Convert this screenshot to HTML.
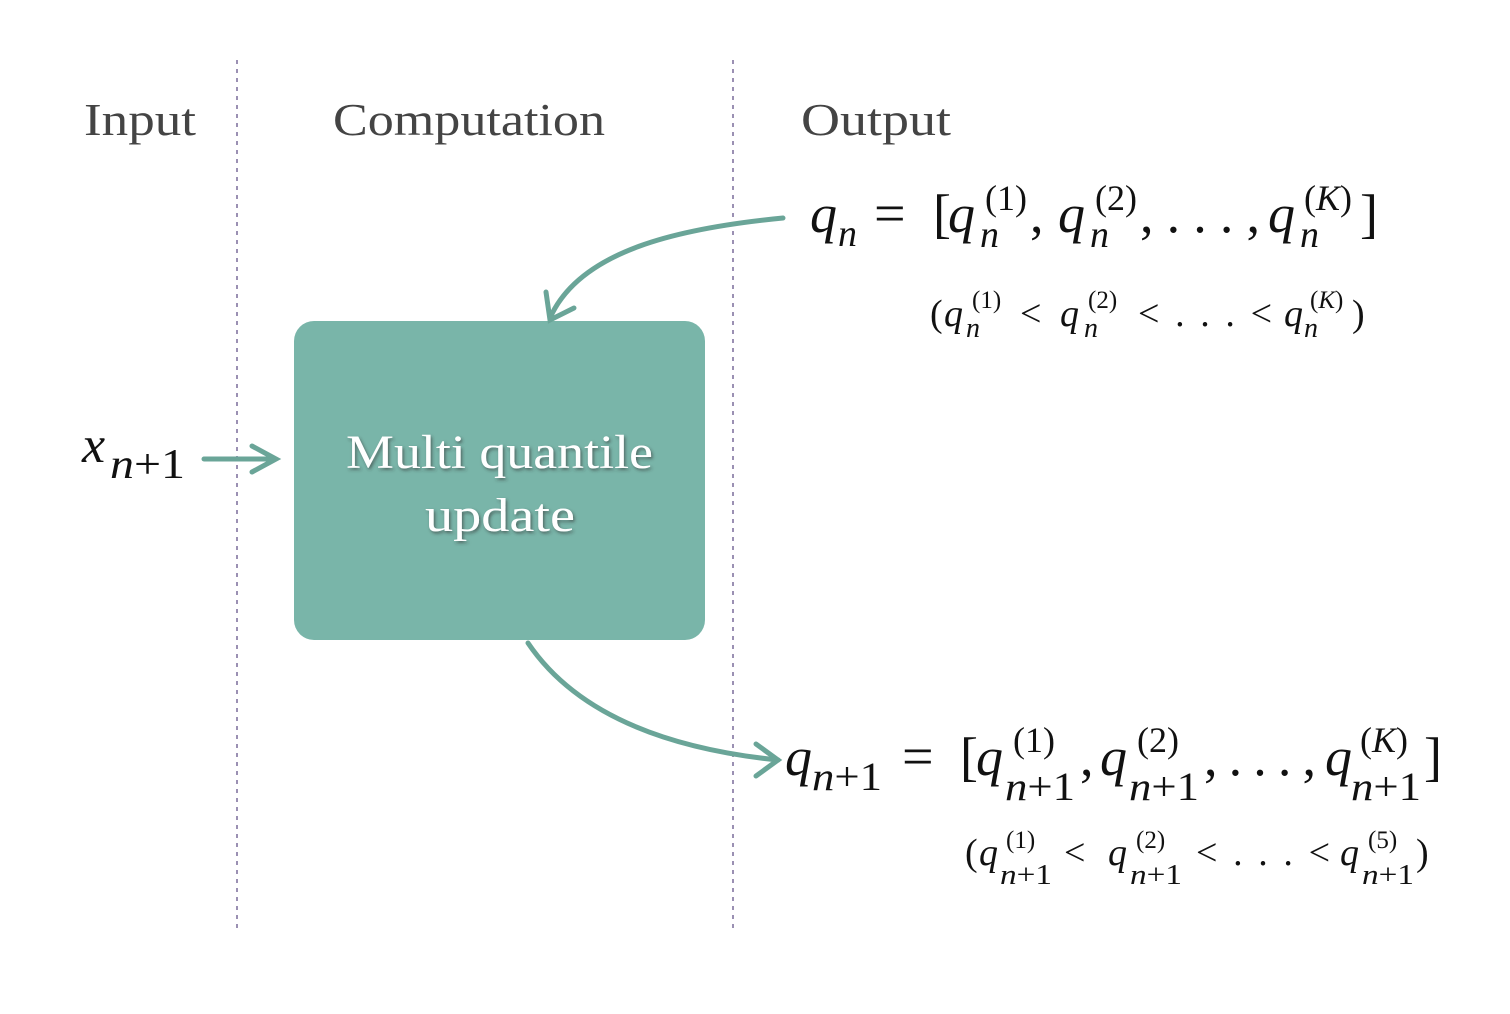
<!DOCTYPE html>
<html><head><meta charset="utf-8"><style>
html,body{margin:0;padding:0;background:#fff;}
svg{display:block;}
.lbl{font-family:"Liberation Serif",serif;font-size:46px;fill:#444;}
.m{font-family:"Liberation Serif",serif;font-style:italic;fill:#111;}
.r{font-family:"Liberation Serif",serif;fill:#111;}
</style></head><body>
<svg width="1510" height="1014" viewBox="0 0 1510 1014">
<defs>
<filter id="sh" x="-10%" y="-10%" width="120%" height="130%"><feDropShadow dx="1.5" dy="2" stdDeviation="1.5" flood-color="#333" flood-opacity="0.6"/></filter>
</defs>
<line x1="237" y1="60" x2="237" y2="930" stroke="#9b90b3" stroke-width="2" stroke-dasharray="4,5"/>
<line x1="733" y1="60" x2="733" y2="930" stroke="#9b90b3" stroke-width="2" stroke-dasharray="4,5"/>
<text class="lbl" x="84" y="135" textLength="112" lengthAdjust="spacingAndGlyphs">Input</text>
<text class="lbl" x="333" y="135" textLength="272" lengthAdjust="spacingAndGlyphs">Computation</text>
<text class="lbl" x="801" y="135" textLength="150" lengthAdjust="spacingAndGlyphs">Output</text>

<rect x="294" y="321" width="411" height="319" rx="20" fill="#79b5a9"/>
<g filter="url(#sh)">
<text x="346" y="468" font-family="Liberation Serif,serif" font-size="48" fill="#fff" textLength="307" lengthAdjust="spacingAndGlyphs">Multi quantile</text>
<text x="425" y="531" font-family="Liberation Serif,serif" font-size="48" fill="#fff" textLength="150" lengthAdjust="spacingAndGlyphs">update</text>
</g>

<g>
<text class="m" x="82" y="462" font-size="52" fill="#333">x</text>
<text class="m" x="110" y="478" font-size="42" fill="#333" textLength="75" lengthAdjust="spacingAndGlyphs">n<tspan font-style="normal">+1</tspan></text>
</g>
<g stroke="#6aa598" stroke-width="5" fill="none" stroke-linecap="round">
<line x1="204" y1="459" x2="274" y2="459"/>
<polyline points="252,446 276,459 252,472"/>
</g>
<g stroke="#6aa598" stroke-width="5" fill="none" stroke-linecap="round">
<path d="M783,218 C680,228 580,250 550,318"/>
<polyline points="546,292 550,320 574,308"/>
</g>
<g stroke="#6aa598" stroke-width="5" fill="none" stroke-linecap="round">
<path d="M528,643 C580,720 680,750 778,760"/>
<polyline points="756,744 778,760 756,776"/>
</g>

<g>
<text class="m" x="810" y="232" font-size="54">q</text>
<text class="m" x="838" y="246" font-size="38">n</text>
<text class="r" x="874" y="232" font-size="56">=</text>
<text class="r" x="933" y="232" font-size="54">[</text>
<text class="m" x="948" y="232" font-size="54">q</text>
<text class="r" x="985" y="210" font-size="36">(1)</text>
<text class="m" x="980" y="247" font-size="38">n</text>
<text class="r" x="1030" y="232" font-size="54">,</text>
<text class="m" x="1058" y="232" font-size="54">q</text>
<text class="r" x="1095" y="210" font-size="36">(2)</text>
<text class="m" x="1090" y="247" font-size="38">n</text>
<text class="r" x="1140" y="232" font-size="54" textLength="120" lengthAdjust="spacing">, . . . ,</text>
<text class="m" x="1268" y="232" font-size="54">q</text>
<text class="r" x="1304" y="210" font-size="36">(<tspan font-style="italic">K</tspan>)</text>
<text class="m" x="1300" y="247" font-size="38">n</text>
<text class="r" x="1360" y="232" font-size="54">]</text>
</g>
<g>
<text class="r" x="930" y="326" font-size="38">(</text>
<text class="m" x="944" y="326" font-size="38">q</text>
<text class="r" x="972" y="308" font-size="25">(1)</text>
<text class="m" x="966" y="337" font-size="28">n</text>
<text class="r" x="1020" y="326" font-size="38">&lt;</text>
<text class="m" x="1060" y="326" font-size="38">q</text>
<text class="r" x="1088" y="308" font-size="25">(2)</text>
<text class="m" x="1084" y="337" font-size="28">n</text>
<text class="r" x="1138" y="326" font-size="38" textLength="134" lengthAdjust="spacing">&lt; . . . &lt;</text>
<text class="m" x="1284" y="326" font-size="38">q</text>
<text class="r" x="1310" y="308" font-size="25">(<tspan font-style="italic">K</tspan>)</text>
<text class="m" x="1304" y="337" font-size="28">n</text>
<text class="r" x="1352" y="326" font-size="38">)</text>
</g>

<g>
<text class="m" x="785" y="775" font-size="54">q</text>
<text class="m" x="812" y="790" font-size="40" textLength="70" lengthAdjust="spacingAndGlyphs">n<tspan font-style="normal">+1</tspan></text>
<text class="r" x="902" y="775" font-size="56">=</text>
<text class="r" x="960" y="775" font-size="54">[</text>
<text class="m" x="976" y="775" font-size="54">q</text>
<text class="r" x="1013" y="752" font-size="36">(1)</text>
<text class="m" x="1005" y="800" font-size="40" textLength="70" lengthAdjust="spacingAndGlyphs">n<tspan font-style="normal">+1</tspan></text>
<text class="r" x="1080" y="775" font-size="54">,</text>
<text class="m" x="1100" y="775" font-size="54">q</text>
<text class="r" x="1137" y="752" font-size="36">(2)</text>
<text class="m" x="1129" y="800" font-size="40" textLength="70" lengthAdjust="spacingAndGlyphs">n<tspan font-style="normal">+1</tspan></text>
<text class="r" x="1204" y="775" font-size="54" textLength="112" lengthAdjust="spacing">, . . . ,</text>
<text class="m" x="1325" y="775" font-size="54">q</text>
<text class="r" x="1360" y="752" font-size="36">(<tspan font-style="italic">K</tspan>)</text>
<text class="m" x="1351" y="800" font-size="40" textLength="70" lengthAdjust="spacingAndGlyphs">n<tspan font-style="normal">+1</tspan></text>
<text class="r" x="1424" y="775" font-size="54">]</text>
</g>
<g>
<text class="r" x="965" y="865" font-size="38">(</text>
<text class="m" x="979" y="865" font-size="38">q</text>
<text class="r" x="1006" y="848" font-size="25">(1)</text>
<text class="m" x="1000" y="884" font-size="28" textLength="52" lengthAdjust="spacingAndGlyphs">n<tspan font-style="normal">+1</tspan></text>
<text class="r" x="1064" y="865" font-size="38">&lt;</text>
<text class="m" x="1108" y="865" font-size="38">q</text>
<text class="r" x="1136" y="848" font-size="25">(2)</text>
<text class="m" x="1130" y="884" font-size="28" textLength="52" lengthAdjust="spacingAndGlyphs">n<tspan font-style="normal">+1</tspan></text>
<text class="r" x="1196" y="865" font-size="38" textLength="134" lengthAdjust="spacing">&lt; . . . &lt;</text>
<text class="m" x="1340" y="865" font-size="38">q</text>
<text class="r" x="1368" y="848" font-size="25">(5)</text>
<text class="m" x="1362" y="884" font-size="28" textLength="52" lengthAdjust="spacingAndGlyphs">n<tspan font-style="normal">+1</tspan></text>
<text class="r" x="1416" y="865" font-size="38">)</text>
</g>
</svg>
</body></html>
